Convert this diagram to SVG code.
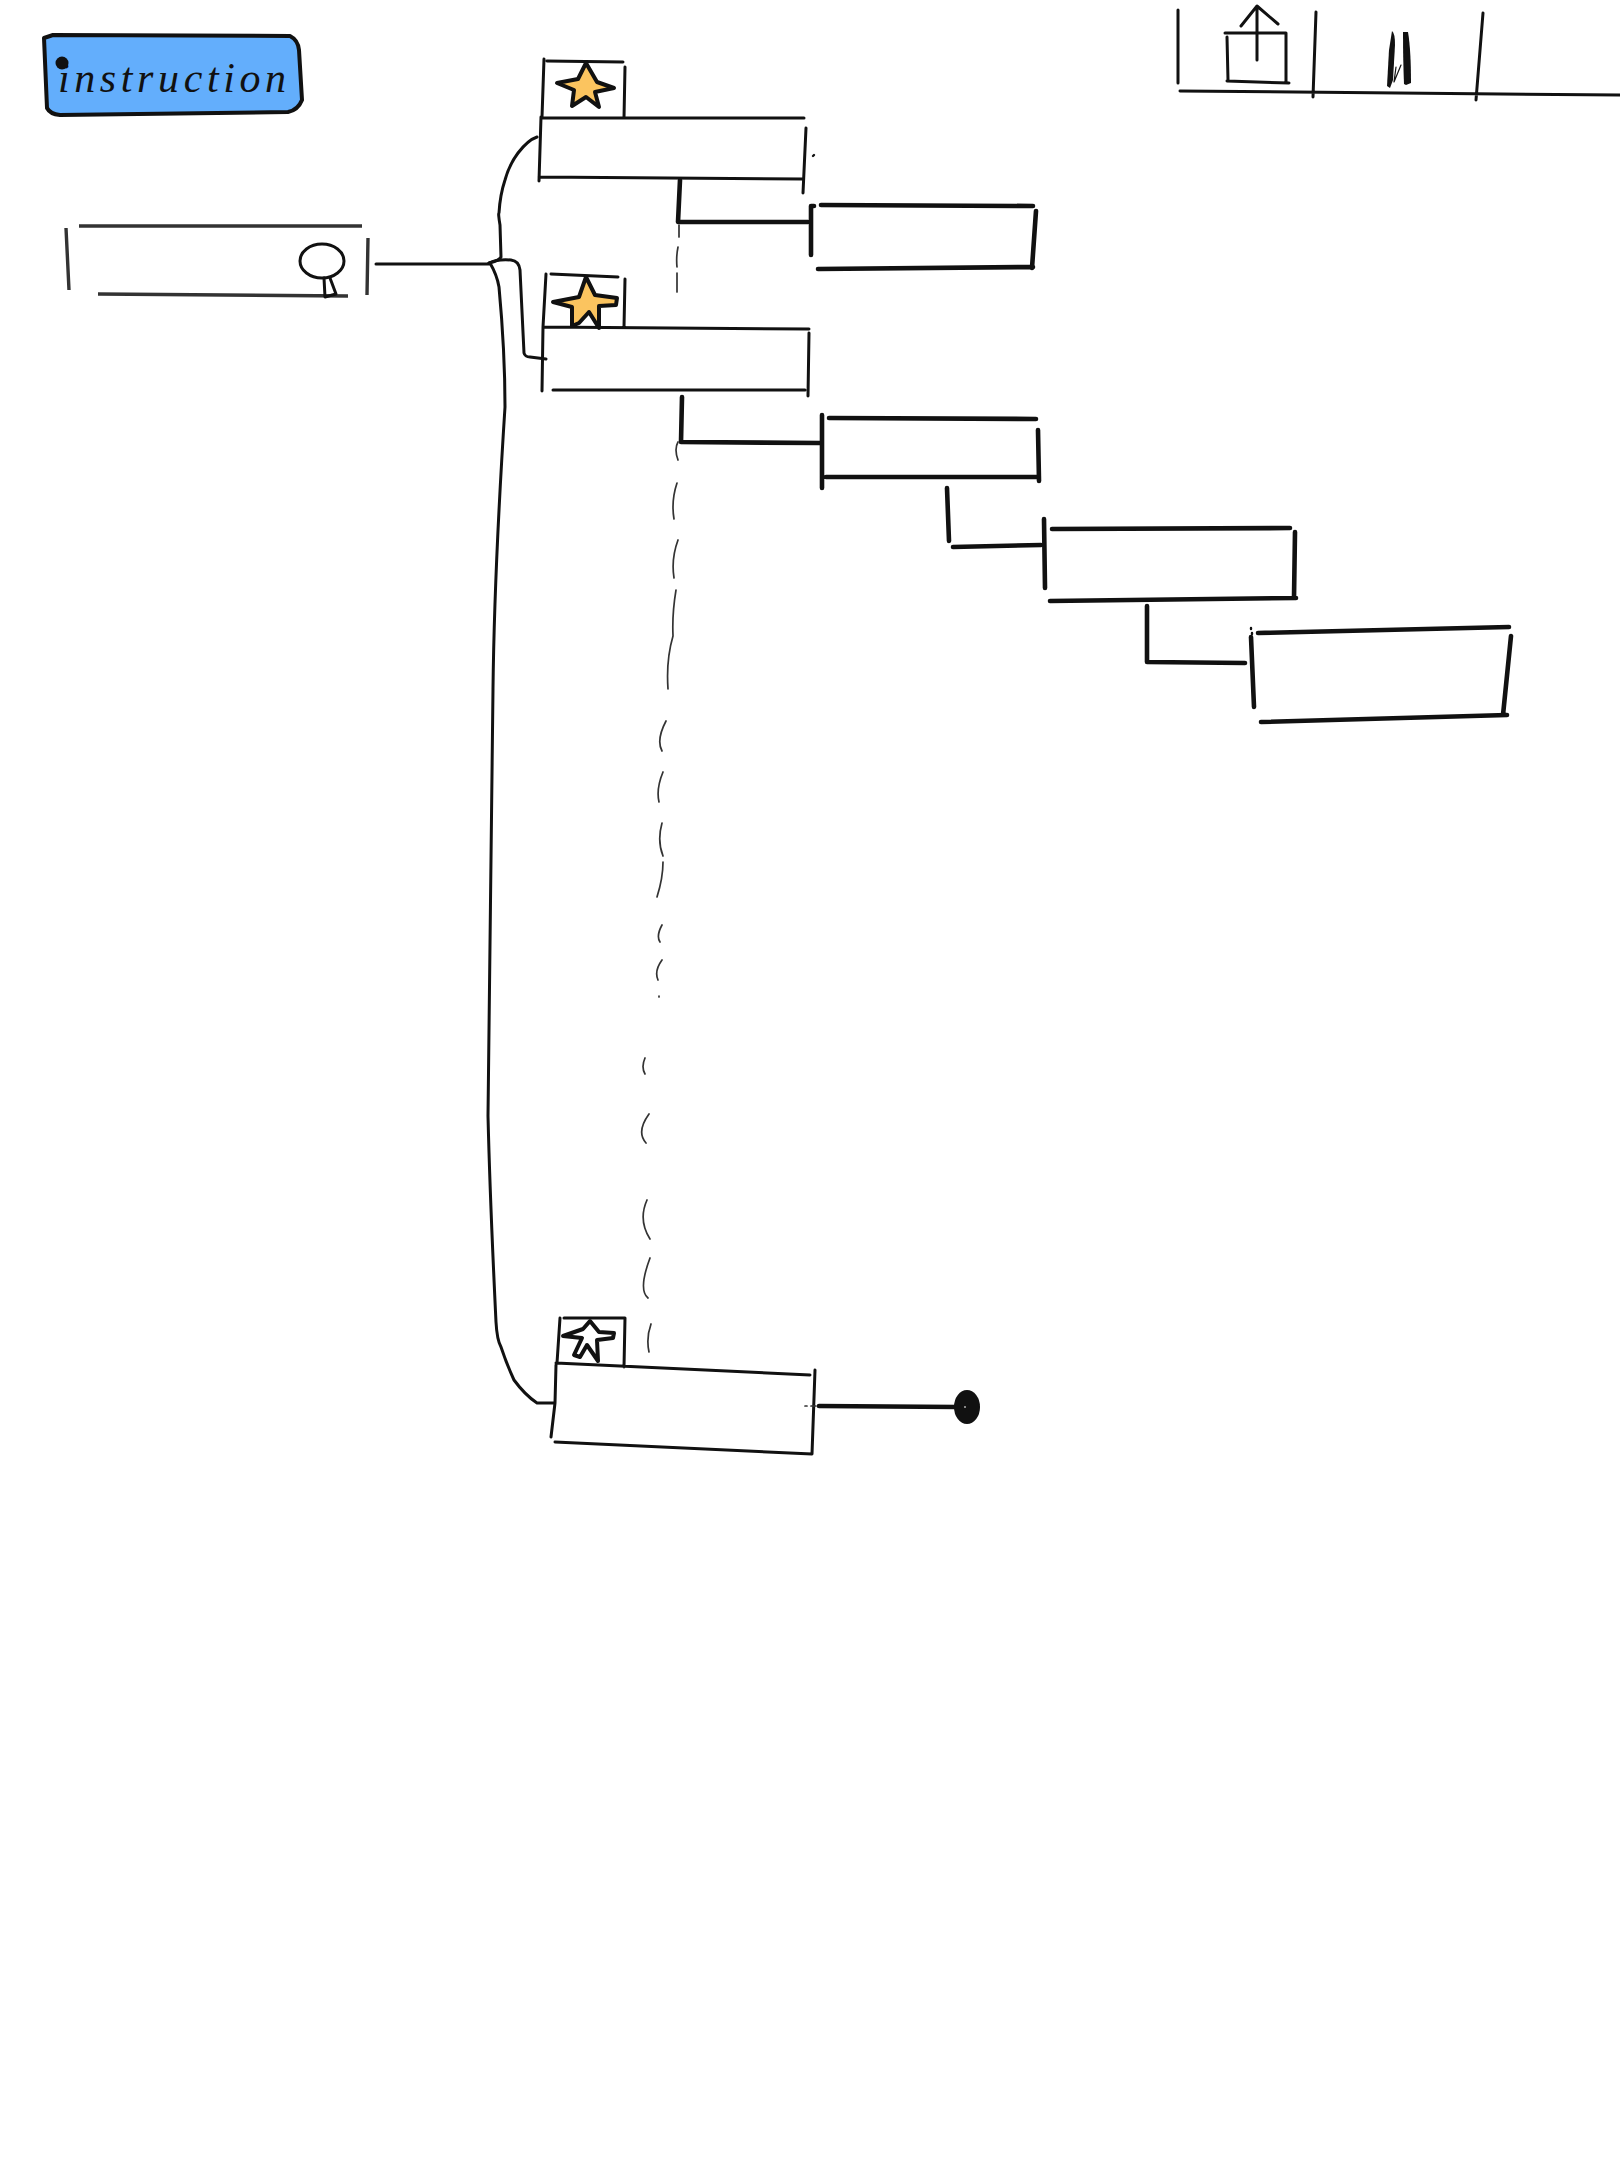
<svg xmlns="http://www.w3.org/2000/svg" width="1620" height="2160" viewBox="0 0 1620 2160">
<style>
.l{fill:none;stroke:#111;stroke-linecap:round;stroke-linejoin:round}
.t{stroke-width:2.4}
.m{stroke-width:3}
.b{stroke-width:4.6}
.g{fill:none;stroke:#333;stroke-width:3.4;stroke-linecap:butt}
.d{fill:none;stroke:#333;stroke-width:1.7;stroke-linecap:round}
.star{fill:#fbc45f;stroke:#111;stroke-width:4;stroke-linejoin:round}
.star0{fill:#fff;stroke:#111;stroke-width:4;stroke-linejoin:round}
</style>
<rect width="1620" height="2160" fill="#fff"/>
<g id="connectors">
<path class="l m" d="M376 264H489"/>
<path class="l m" d="M489 263Q499 261 501 257L500 225Q498 213 499 213Q500 195 505 180Q509 165 518 153Q528 140 537 137"/>
<path class="l m" d="M489 263Q497 259 511 260Q519 261 520 270L524 353Q525 357 530 357L546 359"/>
<path class="l m" d="M490 263Q497 275 499 287C503 330 505 370 505 407C499 500 494 600 493 689C491 800 490 1000 488 1116C490 1200 494 1280 496 1322Q497 1340 501 1347Q507 1365 514 1380Q525 1395 537 1403H554"/>
<path class="l b" d="M680 180L678 222L808 222"/>
<path class="l b" d="M682 397L681 442L820 443"/>
<path class="l b" d="M947 488L949 541M953 547L1041 545"/>
<path class="l b" d="M1147 606V662L1245 663"/>
<path class="l b" stroke-width="5" d="M819 1406L957 1407"/>
<g id="dashes">
<path class="d" d="M679 225V237M678 247Q676 257 677 267M677 273V292"/>
<path class="d" d="M678 442Q674 449 678 460M677 483Q671 501 674 519M678 540Q671 559 674 578M676 590Q672 614 673 636Q666 660 668 689M666 721Q656 740 662 751M663 772Q656 789 659 802M662 823Q657 841 663 856M663 862Q663 878 657 897M662 925Q656 936 660 942M662 960Q654 971 658 980M659 996V997"/>
<path class="d" d="M645 1058Q641 1067 645 1074M649 1114Q636 1132 646 1143M647 1200Q638 1220 650 1239M650 1258Q638 1290 648 1298M651 1324Q646 1338 649 1352"/>
</g>
</g>
<g id="instruction">
<path d="M53 35L290 36Q298 40 299 50L302 100Q298 110 288 112L60 115Q50 114 47 108L44 38Z" fill="#63aefc" stroke="#111" stroke-width="4" stroke-linejoin="round"/>
<text x="58" y="92" font-family="'Liberation Serif',serif" font-style="italic" font-size="42" textLength="228" lengthAdjust="spacing" fill="#111">instruction</text>
<circle cx="62" cy="63" r="6.5" fill="#111"/>
</g>
<g id="search">
<path class="g" d="M79 226H362M66 228L69 290M368 238L367 295M98 294L348 296"/>
<ellipse cx="322" cy="261" rx="22" ry="17" class="l m" fill="none"/>
<path class="l m" d="M324 278L325 297L336 294L330 278"/>
</g>
<g id="node1">
<path class="l m" d="M544 59L542 117M547 61L623 62M625 67L624 118M541 118H804M541 117L539 181M539 177L803 179M806 128L803 193"/>
<path class="star" d="M586 63L597 82L614 88L595 92L599 107L586 97L572 106L574 90L557 83L578 79Z"/>
<path class="l t" d="M814 155L813 156"/>
</g>
<g id="node1a">
<path class="l b" d="M814 206H811L811 255M821 205L1033 206M1036 211L1032 268M818 269L1033 267"/>
</g>
<g id="node2">
<path class="star" d="M586 277L595 295L617 298L616 305L599 306L599 328L589 312L579 323L572 326L572 307L553 302L579 297Z"/>
<path class="l m" d="M546 274L543 327M551 274L618 277M625 279L624 327M543 327L809 329M543 327L542 391M553 390H805M809 333L808 396"/>
</g>
<g id="node2a">
<path class="l b" d="M822 415V488M829 418L1036 419M1038 430L1039 481M826 477H1037"/>
</g>
<g id="node3">
<path class="l b" d="M1044 519L1045 588M1052 529L1290 528M1295 532L1294 598M1050 601L1296 598"/>
</g>
<g id="node4">
<path class="l b" d="M1251 637L1254 707M1258 633L1509 627M1511 636L1503 715M1261 722L1507 715"/>
<path class="l t" d="M1251 628V629M1252 633V634"/>
</g>
<g id="node5">
<path class="l m" stroke-width="3.6" d="M560 1318L557 1363M564 1318H625L624 1367M556 1363L810 1375M815 1370L812 1454M555 1442L812 1454M556 1365L555 1403L551 1437"/>
<path class="star0" d="M590 1321L599 1332L614 1333L613 1338L597 1340L598 1361L587 1345L580 1357L574 1355L582 1338L563 1336L583 1329Z"/>
<path class="d" d="M805 1406H807M811 1406H816"/>
</g>
<g id="end">
<ellipse cx="967" cy="1407" rx="13" ry="17" fill="#111"/>
<path d="M964 1407H966" stroke="#fff" stroke-width="1"/>
</g>
<g id="toolbar">
<path class="l m" d="M1178 10V83M1180 91L1620 95M1316 12L1313 97M1483 13L1476 100"/>
<path class="l m" d="M1225 33H1286V83M1227 37L1228 80M1227 81L1289 83M1257 60V7M1241 26L1257 6L1278 24"/>
<path d="M1392 31Q1395 33 1395 45L1393 80L1390 88L1387 86L1389 50Z" fill="#111"/>
<path d="M1403 32L1408 32Q1411 50 1411 83L1406 85L1404 84Q1403 60 1403 32Z" fill="#111"/>
<path class="l" stroke-width="1.2" d="M1396 67L1394 82L1401 65"/>
</g>
</svg>
